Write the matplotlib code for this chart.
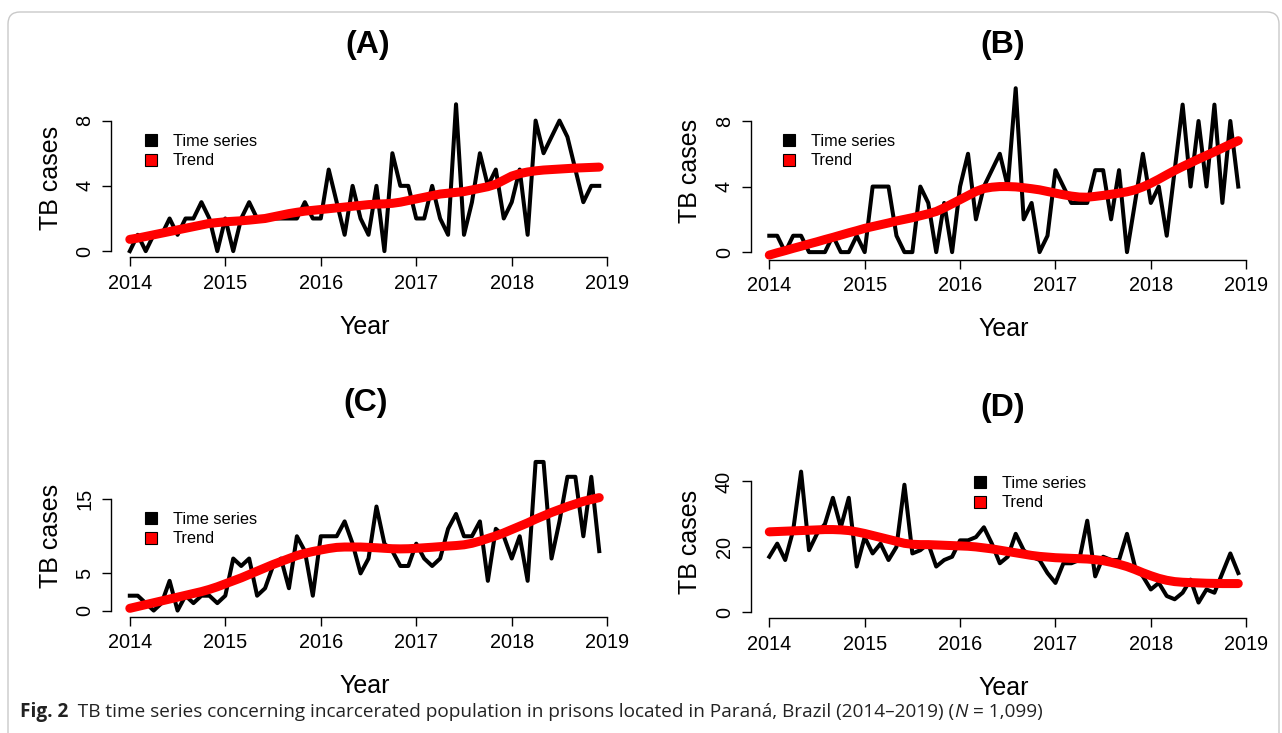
import matplotlib.pyplot as plt
from matplotlib.patches import FancyBboxPatch, Patch
from matplotlib.transforms import IdentityTransform
import numpy as np

W, H = 1282, 733

# monthly index, Jan 2014 .. Dec 2018
months = 2014 + np.arange(60) / 12

cases_a = [0, 1, 0, 1, 1, 2, 1, 2, 2, 3,
           2, 0, 2, 0, 2, 3, 2, 2, 2, 2,
           2, 2, 3, 2, 2, 5, 3, 1, 4, 2,
           1, 4, 0, 6, 4, 4, 2, 2, 4, 2,
           1, 9, 1, 3, 6, 4, 5, 2, 3, 5,
           1, 8, 6, 7, 8, 7, 5, 3, 4, 4]
trend_a = [0.72, 0.8, 0.9, 1.0, 1.1, 1.2, 1.3, 1.4, 1.5, 1.6,
           1.7, 1.75, 1.8, 1.83, 1.86, 1.9, 1.95, 2.0, 2.1, 2.2,
           2.3, 2.38, 2.45, 2.5, 2.55, 2.6, 2.65, 2.7, 2.75, 2.8,
           2.85, 2.88, 2.9, 2.93, 3.0, 3.1, 3.2, 3.3, 3.4, 3.5,
           3.55, 3.6, 3.65, 3.75, 3.85, 3.95, 4.1, 4.35, 4.6, 4.75,
           4.85, 4.92, 4.97, 5.0, 5.03, 5.06, 5.09, 5.11, 5.13, 5.15]

cases_b = [1, 1, 0, 1, 1, 0, 0, 0, 1, 0,
           0, 1, 0, 4, 4, 4, 1, 0, 0, 4,
           3, 0, 3, 0, 4, 6, 2, 4, 5, 6,
           4, 10, 2, 3, 0, 1, 5, 4, 3, 3,
           3, 5, 5, 2, 5, 0, 3, 6, 3, 4,
           1, 5, 9, 4, 8, 4, 9, 3, 8, 4]
trend_b = [-0.18, -0.04, 0.09, 0.23, 0.36, 0.5, 0.63, 0.77, 0.9, 1.04,
           1.18, 1.31, 1.45, 1.56, 1.67, 1.78, 1.9, 2.0, 2.1, 2.22,
           2.34, 2.48, 2.7, 2.95, 3.2, 3.45, 3.7, 3.88, 3.96, 4.0,
           4.0, 3.98, 3.93, 3.87, 3.8, 3.7, 3.6, 3.5, 3.42, 3.36,
           3.35, 3.4, 3.46, 3.53, 3.6, 3.68, 3.8, 3.98, 4.2, 4.45,
           4.72, 4.98, 5.22, 5.45, 5.68, 5.9, 6.12, 6.35, 6.58, 6.8]

cases_c = [2, 2, 1, 0, 1, 4, 0, 2, 1, 2,
           2, 1, 2, 7, 6, 7, 2, 3, 6, 7,
           3, 10, 8, 2, 10, 10, 10, 12, 9, 5,
           7, 14, 9, 8, 6, 6, 9, 7, 6, 7,
           11, 13, 10, 10, 12, 4, 11, 10, 7, 10,
           4, 20, 20, 7, 12, 18, 18, 10, 18, 8]
trend_c = [0.3, 0.55, 0.8, 1.05, 1.3, 1.55, 1.8, 2.05, 2.3, 2.55,
           2.85, 3.2, 3.6, 4.0, 4.4, 4.85, 5.3, 5.75, 6.2, 6.6,
           7.0, 7.4, 7.7, 7.95, 8.15, 8.35, 8.5, 8.55, 8.55, 8.55,
           8.5, 8.45, 8.38, 8.32, 8.3, 8.32, 8.38, 8.45, 8.52, 8.6,
           8.68, 8.75, 8.85, 9.05, 9.35, 9.7, 10.05, 10.45, 10.9, 11.35,
           11.8, 12.3, 12.75, 13.2, 13.6, 14.0, 14.35, 14.7, 14.95, 15.2]

cases_d = [17, 21, 16, 25, 43, 19, 24, 27, 35, 26,
           35, 14, 23, 18, 21, 16, 20, 39, 18, 19,
           21, 14, 16, 17, 22, 22, 23, 26, 21, 15,
           17, 24, 19, 17, 16, 12, 9, 15, 15, 16,
           28, 11, 17, 16, 16, 24, 14, 11, 7, 9,
           5, 4, 6, 10, 3, 7, 6, 12, 18, 12]
trend_d = [24.6, 24.7, 24.8, 24.9, 25.0, 25.1, 25.2, 25.3, 25.3, 25.2,
           25.0, 24.6, 24.1, 23.5, 22.9, 22.3, 21.7, 21.1, 20.8, 20.7,
           20.7, 20.6, 20.5, 20.4, 20.3, 20.2, 20.0, 19.7, 19.4, 19.0,
           18.6, 18.2, 17.8, 17.4, 17.1, 16.9, 16.7, 16.6, 16.5, 16.4,
           16.3, 16.1, 15.8, 15.3, 14.7, 14.0, 13.1, 12.1, 11.2, 10.4,
           9.8, 9.4, 9.2, 9.1, 9.0, 8.9, 8.85, 8.8, 8.8, 8.8]

year_ticks = [2014, 2015, 2016, 2017, 2018, 2019]
yticks_a = [0, 4, 8]
yticks_b = [0, 4, 8]
yticks_c = [0, 5, 15]
yticks_d = [0, 20, 40]

plt.rcParams['font.family'] = ['Liberation Sans', 'DejaVu Sans']

fig = plt.figure(figsize=(W / 100, H / 100), dpi=100)

# border of the figure box
fig.add_artist(FancyBboxPatch((8, -30), 1271, H - 12 + 30,
                              boxstyle='round,pad=0,rounding_size=12',
                              transform=IdentityTransform(),
                              facecolor='none', edgecolor='#c9c9c9', lw=1))

xlim = (2013.803, 2019.113)

# (left, top, right, bottom) in pixels, ylim, ticks, data, title pos, legend pos
panels = [
    ((111, 98.4, 618, 257), (-0.36, 9.36), yticks_a, cases_a, trend_a,
     '(A)', (368, 45), (145, 151)),
    ((750.5, 81.5, 1257, 259.5), (-0.45, 10.41), yticks_b, cases_b, trend_b,
     '(B)', (1003, 45), (783, 151)),
    ((111, 456, 618, 616.5), (-0.8, 20.8), yticks_c, cases_c, trend_c,
     '(C)', (366, 403), (145, 529)),
    ((750.5, 466, 1257, 618), (-1.72, 44.72), yticks_d, cases_d, trend_d,
     '(D)', (1003, 408), (974, 493)),
]

for rect, ylim, yt, cases, trend, title, tpos, lpos in panels:
    l, t, r, b = rect
    ax = fig.add_axes([l / W, 1 - b / H, (r - l) / W, (b - t) / H])
    ax.plot(months, cases, color='black', lw=2.9, solid_joinstyle='round')
    ax.plot(months, trend, color='red', lw=6.5, solid_capstyle='round')
    ax.set_xlim(xlim)
    ax.set_ylim(ylim)
    ax.set_xticks(year_ticks)
    ax.set_yticks(yt)
    for s in ['top', 'right']:
        ax.spines[s].set_visible(False)
    ax.spines['bottom'].set_bounds(year_ticks[0], year_ticks[-1])
    ax.spines['left'].set_bounds(yt[0], yt[-1])
    ax.spines['bottom'].set_linewidth(1)
    ax.spines['left'].set_linewidth(1)
    ax.tick_params(direction='out', length=6.5, width=1, labelsize=14.3, pad=5.5)
    for lab in ax.get_yticklabels():
        lab.set_rotation(90)
        lab.set_va('center')
    ax.set_xlabel('Year', fontsize=18, labelpad=16)
    ax.set_ylabel('TB cases', fontsize=18, labelpad=9)
    ax.patch.set_visible(False)

    fig.text(tpos[0] / W, 1 - tpos[1] / H, title, fontsize=23,
             fontweight='bold', ha='center', va='center')

    handles = [Patch(facecolor='black', edgecolor='black', lw=0.8),
               Patch(facecolor='red', edgecolor='black', lw=0.8)]
    ax.legend(handles, ['Time series', 'Trend'], loc='center left',
              bbox_to_anchor=(lpos[0] / W, 1 - lpos[1] / H),
              bbox_transform=fig.transFigure, frameon=False,
              fontsize=11.8, handlelength=0.75, handleheight=0.75,
              handletextpad=0.95, labelspacing=0.3,
              borderpad=0, borderaxespad=0)

# caption, pieces placed one after another
renderer = fig.canvas.get_renderer()
x = 20
cap_y = 1 - 712 / H
cap_font = ['Open Sans', 'DejaVu Sans']
pieces = [('Fig. 2', 'bold', 'normal'),
          ('  TB time series concerning incarcerated population in prisons '
           'located in Paraná, Brazil (2014–2019) (', 'normal', 'normal'),
          ('N', 'normal', 'italic'),
          (' = 1,099)', 'normal', 'normal')]
for txt, weight, style in pieces:
    tx = fig.text(x / W, cap_y, txt, fontsize=13.7, fontweight=weight,
                  fontstyle=style, family=cap_font, ha='left', va='center',
                  color='#222222')
    x += tx.get_window_extent(renderer).width

fig.savefig('out.png', dpi=100)
